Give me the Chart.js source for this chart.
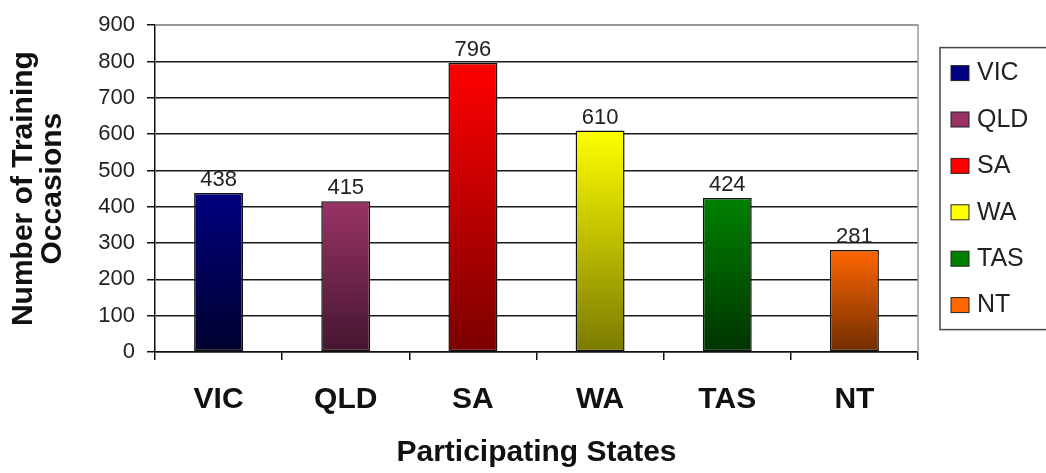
<!DOCTYPE html>
<html>
<head>
<meta charset="utf-8">
<script src="https://cdn.jsdelivr.net/npm/chart.js@4"></script>
<style>
  html, body { margin: 0; padding: 0; background: #fff; overflow: hidden; }
  #wrap { width: 1046px; height: 473px; position: relative; }
</style>
</head>
<body>
<div id="wrap"><canvas id="barChart"></canvas></div>
<script>
var states = ["VIC", "QLD", "SA", "WA", "TAS", "NT"];
var occasions = [438, 415, 796, 610, 424, 281];
var yTicks = [0, 100, 200, 300, 400, 500, 600, 700, 800, 900];
var topColors = ["rgb(0,0,128)", "rgb(153,51,102)", "rgb(255,0,0)", "rgb(255,255,0)", "rgb(0,128,0)", "rgb(255,102,0)"];
var bottomColors = ["rgb(0,0,45)", "rgb(68,22,48)", "rgb(122,0,0)", "rgb(122,122,0)", "rgb(0,52,0)", "rgb(112,45,0)"];

function barFill(c) {
  var chart = c.chart;
  if (!chart.chartArea || c.type !== "data") return topColors[c.dataIndex];
  var y = chart.scales.y;
  var yTop = y.getPixelForValue(c.raw);
  var yBot = y.getPixelForValue(0);
  var g = chart.ctx.createLinearGradient(0, yTop, 0, yBot);
  g.addColorStop(0, topColors[c.dataIndex]);
  g.addColorStop(1, bottomColors[c.dataIndex]);
  return g;
}

// grey frame on top/right of plot area
var framePlugin = {
  id: "frame",
  beforeDatasetsDraw: function (chart) {
    var a = chart.chartArea, ctx = chart.ctx;
    ctx.save();
    ctx.strokeStyle = "#9a9a9a";
    ctx.lineWidth = 1.5;
    ctx.beginPath();
    ctx.moveTo(a.left, a.top);
    ctx.lineTo(a.right, a.top);
    ctx.lineTo(a.right, a.bottom);
    ctx.stroke();
    ctx.restore();
  }
};

// value labels above the bars
var valueLabels = {
  id: "valueLabels",
  afterDatasetsDraw: function (chart) {
    var ctx = chart.ctx;
    var meta = chart.getDatasetMeta(0);
    ctx.save();
    ctx.font = "22px 'Liberation Sans', Arial, sans-serif";
    ctx.fillStyle = "#222";
    ctx.textAlign = "center";
    ctx.textBaseline = "alphabetic";
    meta.data.forEach(function (bar, i) {
      ctx.fillText(String(occasions[i]), bar.x, bar.y - 7);
    });
    ctx.restore();
  }
};

// boxed legend on the right
var boxLegend = {
  id: "boxLegend",
  afterDraw: function (chart) {
    var a = chart.chartArea, ctx = chart.ctx;
    var step = 46.4;
    var mid = (a.top + a.bottom) / 2;
    var first = mid - step * (states.length - 1) / 2;
    var left = a.right + 22;
    ctx.save();
    ctx.strokeStyle = "#444";
    ctx.lineWidth = 1.5;
    ctx.strokeRect(left, first - 25, 200, step * (states.length - 1) + 50);
    ctx.font = "25px 'Liberation Sans', Arial, sans-serif";
    ctx.textBaseline = "middle";
    ctx.textAlign = "left";
    states.forEach(function (s, i) {
      var cy = first + step * i;
      ctx.fillStyle = topColors[i];
      ctx.fillRect(left + 11, cy - 7, 18, 15);
      ctx.strokeStyle = "#222";
      ctx.lineWidth = 1;
      ctx.strokeRect(left + 11, cy - 7, 18, 15);
      ctx.fillStyle = "#222";
      ctx.fillText(s, left + 37, cy + 1);
    });
    ctx.restore();
  }
};

var ctx = document.getElementById("barChart").getContext("2d");
var myChart = new Chart(ctx, {
  type: "bar",
  data: {
    labels: states,
    datasets: [
      {
        label: "Training Occasions",
        data: occasions,
        backgroundColor: barFill,
        borderColor: "#111",
        borderWidth: 1.5,
        borderSkipped: false,
        categoryPercentage: 1,
        barPercentage: 0.385,
      },
    ],
  },
  options: {
    responsive: true,
    maintainAspectRatio: false,
    animation: false,
    layout: { padding: { top: 21, right: 128, left: 0, bottom: 0 } },
    plugins: {
      legend: { display: false },
      tooltip: { enabled: false },
    },
    scales: {
      x: {
        afterFit: function (s) { s.height = 121; },
        grid: {
          offset: true,
          drawOnChartArea: false,
          drawTicks: true,
          tickLength: 8,
          tickColor: "#111",
          lineWidth: 1.5,
        },
        border: { color: "#111", width: 1.5 },
        ticks: {
          padding: 22,
          color: "#111",
          font: { family: "'Liberation Sans', Arial, sans-serif", size: 30, weight: "bold" },
        },
        title: {
          display: true,
          text: "Participating States",
          color: "#111",
          padding: { top: 0, bottom: 5 },
          font: { family: "'Liberation Sans', Arial, sans-serif", size: 30, weight: "bold", lineHeight: 1 },
        },
      },
      y: {
        min: 0,
        max: 900,
        afterFit: function (s) { s.width = 155; },
        afterBuildTicks: function (s) {
          s.ticks = yTicks.map(function (v) { return { value: v }; });
        },
        grid: {
          color: function (c) { return c.tick && c.tick.value === 900 ? "#9a9a9a" : "#1a1a1a"; },
          lineWidth: 1.5,
          tickLength: 8,
          tickColor: "#111",
        },
        border: { color: "#111", width: 1.5 },
        ticks: {
          padding: 12,
          color: "#222",
          font: { family: "'Liberation Sans', Arial, sans-serif", size: 22 },
        },
        title: {
          display: true,
          text: ["Number of Training", "Occasions"],
          color: "#111",
          padding: { top: 9, bottom: 0 },
          font: { family: "'Liberation Sans', Arial, sans-serif", size: 30, weight: "bold", lineHeight: 0.97 },
        },
      },
    },
  },
  plugins: [framePlugin, valueLabels, boxLegend],
});
</script>
</body>
</html>
